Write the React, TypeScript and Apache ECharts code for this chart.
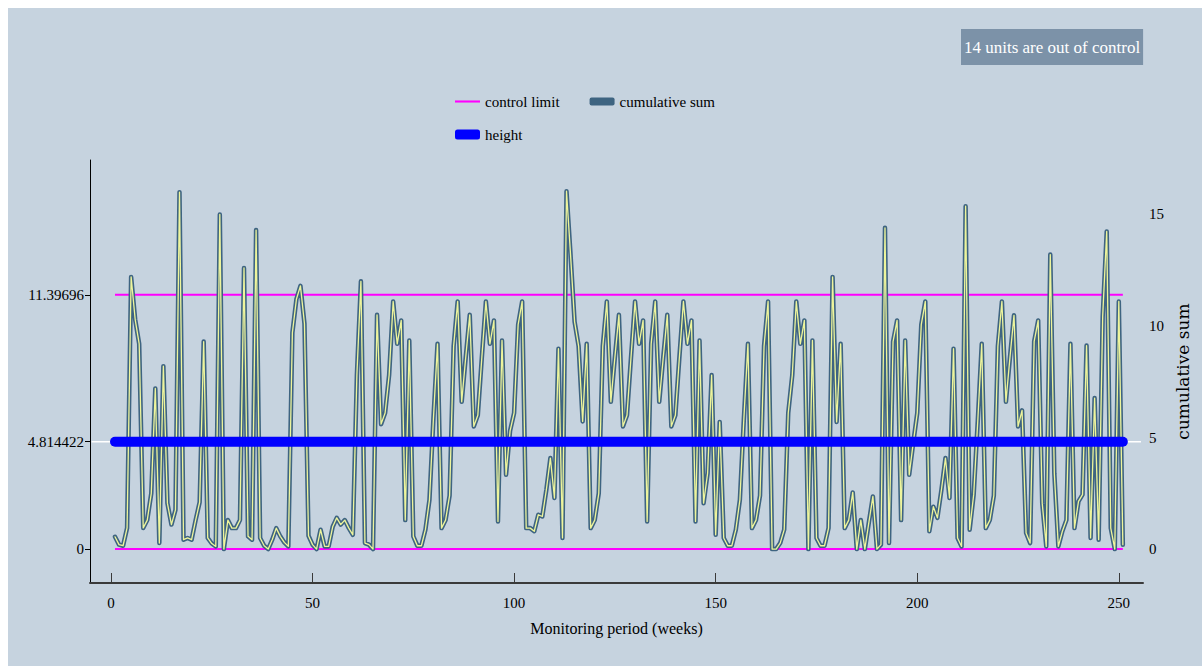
import React, { useEffect, useRef } from "react";
import * as echarts from "echarts";

// Cumulative sum per monitoring week (weeks 1..251)
const CUSUM: number[] = [
  0.55, 0.2, 0.15, 0.95, 12.2, 10.3, 9.2, 0.95, 1.3, 2.5,
  7.2, 0.27, 8.2, 2.06, 1.1, 1.76, 16.0, 0.42, 0.5, 0.42,
  1.3, 2.1, 9.3, 0.5, 0.25, 0.12, 15.0, 0.0, 1.3, 0.94,
  0.94, 1.3, 12.6, 0.57, 0.42, 14.3, 0.5, 0.15, 0.0, 0.42,
  0.94, 0.57, 0.3, 0.12, 9.7, 11.2, 11.8, 10.1, 0.6, 0.2,
  0.0, 0.87, 0.12, 0.12, 1.0, 1.4, 1.1, 1.3, 0.94, 0.64,
  7.8, 12.0, 0.27, 0.2, 0.0, 10.5, 5.6, 6.1, 7.8, 11.1,
  9.2, 10.25, 1.3, 9.35, 0.57, 0.15, 0.15, 0.87, 2.2, 5.9,
  9.2, 0.94, 1.3, 2.4, 9.1, 11.1, 6.6, 8.6, 10.5, 5.5,
  6.0, 8.6, 11.1, 9.2, 10.25, 1.24, 9.35, 3.33, 5.3, 6.1,
  10.06, 11.1, 0.94, 0.94, 0.8, 1.54, 1.46, 2.66, 4.08, 2.29,
  8.98, 0.5, 16.04, 13.2, 10.2, 9.1, 5.72, 9.2, 0.94, 1.3,
  2.5, 9.1, 11.1, 6.6, 8.6, 10.5, 5.5, 6.0, 8.6, 11.1,
  9.2, 10.25, 1.24, 9.2, 11.1, 6.6, 8.6, 10.5, 5.5, 6.0,
  8.6, 11.1, 9.2, 10.25, 1.24, 9.35, 2.06, 3.4, 7.8, 0.64,
  5.7, 0.5, 0.15, 0.15, 0.87, 2.2, 5.87, 9.2, 0.94, 1.3,
  2.4, 9.1, 11.1, 0.0, 0.0, 0.27, 0.87, 6.1, 7.8, 11.1,
  9.2, 10.25, 0.0, 9.35, 0.5, 0.15, 0.15, 0.94, 12.2, 5.7,
  9.2, 0.94, 1.3, 2.54, 0.0, 1.3, 0.0, 1.2, 2.36, 0.0,
  0.2, 14.4, 0.27, 9.3, 10.25, 1.3, 9.35, 3.33, 4.75, 6.1,
  10.06, 11.1, 0.8, 1.9, 1.4, 2.66, 4.08, 2.29, 8.98, 0.5,
  0.12, 15.37, 0.87, 2.44, 5.7, 9.2, 0.94, 1.3, 2.4, 9.1,
  11.1, 6.6, 8.6, 10.48, 5.5, 6.22, 0.72, 0.27, 9.31, 10.25,
  2.06, 0.12, 13.2, 3.4, 0.12, 0.8, 1.3, 9.2, 0.94, 2.14,
  2.44, 9.12, 0.5, 6.77, 0.42, 10.43, 14.24, 0.94, 0.0, 11.1,
  0.2,
];

const CONTROL_LIMIT = 11.39696;
const LOWER_LIMIT = 0;
const HEIGHT = 4.814422;

const LEFT_TICKS = [0, 4.814422, 11.39696];
const LEFT_TICK_LABELS = ["0", "4.814422", "11.39696"];
const RIGHT_TICKS = [0, 5, 10, 15];
const X_TICKS = [0, 50, 100, 150, 200, 250];

const TITLE = "14 units are out of control";
const X_NAME = "Monitoring period (weeks)";
const Y_NAME = "cumulative sum";

const FONT = "Liberation Serif";

export default function App() {
  const ref = useRef<HTMLDivElement>(null);

  useEffect(() => {
    if (!ref.current) return;
    const chart = echarts.init(ref.current, null, { renderer: "svg" });

    const weeks = CUSUM.map((_, i) => i + 1);
    const first = weeks[0];
    const last = weeks[weeks.length - 1];
    const cusumData = CUSUM.map((v, i) => [weeks[i], v]);

    const yMin = -1.52;
    const yMax = 17.44;

    const option: any = {
      animation: false,
      backgroundColor: "#c6d3df",
      textStyle: { fontFamily: FONT },
      title: {
        text: TITLE,
        left: 953,
        top: 21,
        backgroundColor: "#7c92a8",
        padding: [10, 3, 9, 3],
        textStyle: {
          color: "#ffffff",
          fontSize: 17,
          fontWeight: "normal",
          fontFamily: FONT,
        },
      },
      legend: [
        {
          left: 442,
          top: 81,
          itemWidth: 25,
          itemHeight: 8,
          itemGap: 30,
          symbolKeepAspect: true,
          textStyle: { fontSize: 15, color: "#000", fontFamily: FONT },
          data: [
            {
              name: "control limit",
              icon: "path://M0,0H24V2H0Z",
              itemStyle: { color: "#ff00ff", borderWidth: 0 },
            },
            {
              name: "cumulative sum",
              icon: "roundRect",
              itemStyle: { color: "#3e6481", borderWidth: 0 },
            },
          ],
        },
        {
          left: 442,
          top: 114,
          itemWidth: 25,
          itemHeight: 10,
          textStyle: { fontSize: 15, color: "#000", fontFamily: FONT },
          data: [
            {
              name: "height",
              icon: "roundRect",
              itemStyle: { color: "#0000ff", borderWidth: 0 },
            },
          ],
        },
      ],
      grid: { left: 82, top: 152, right: 59, bottom: 83, containLabel: false },
      xAxis: {
        type: "value",
        min: -5.2,
        max: 256,
        name: X_NAME,
        nameLocation: "middle",
        nameGap: 37,
        nameTextStyle: { fontSize: 16, color: "#000", fontFamily: FONT },
        axisLine: { onZero: false, lineStyle: { color: "#3a3a3a", width: 2 } },
        axisTick: {
          show: true,
          inside: true,
          length: 10,
          customValues: X_TICKS,
          lineStyle: { color: "#3a3a3a", width: 1 },
        },
        axisLabel: {
          customValues: X_TICKS,
          margin: 12,
          fontSize: 15,
          color: "#000",
          fontFamily: FONT,
        },
        splitLine: { show: false },
      },
      yAxis: [
        {
          type: "value",
          position: "left",
          min: yMin,
          max: yMax,
          axisLine: { show: true, onZero: false, lineStyle: { color: "#000", width: 1 } },
          axisTick: {
            show: true,
            length: 5,
            customValues: LEFT_TICKS,
            lineStyle: { color: "#000" },
          },
          axisLabel: {
            customValues: LEFT_TICKS,
            margin: 6,
            fontSize: 15,
            color: "#000",
            fontFamily: FONT,
            formatter: (v: number) => {
              const i = LEFT_TICKS.findIndex((t) => Math.abs(t - v) < 1e-6);
              return i >= 0 ? LEFT_TICK_LABELS[i] : "";
            },
          },
          splitLine: { show: false },
        },
        {
          type: "value",
          position: "right",
          min: yMin,
          max: yMax,
          name: Y_NAME,
          nameLocation: "middle",
          nameGap: 25,
          nameTextStyle: { fontSize: 17, color: "#000", fontFamily: "DejaVu Serif" },
          axisLine: { show: false, onZero: false },
          axisTick: { show: false, customValues: RIGHT_TICKS },
          axisLabel: {
            customValues: RIGHT_TICKS,
            margin: 6,
            fontSize: 15,
            color: "#000",
            fontFamily: FONT,
          },
          splitLine: { show: false },
        },
      ],
      series: [
        {
          type: "line",
          silent: true,
          symbol: "none",
          data: [
            [-4.8, HEIGHT],
            [255.5, HEIGHT],
          ],
          lineStyle: { color: "#ffffff", width: 1.5 },
          z: 1,
        },
        {
          name: "control limit",
          type: "line",
          symbol: "none",
          data: [
            [first, CONTROL_LIMIT],
            [last, CONTROL_LIMIT],
          ],
          itemStyle: { color: "#ff00ff" },
          lineStyle: { color: "#ff00ff", width: 2 },
          z: 2,
        },
        {
          name: "control limit",
          type: "line",
          symbol: "none",
          data: [
            [first, LOWER_LIMIT],
            [last, LOWER_LIMIT],
          ],
          itemStyle: { color: "#ff00ff" },
          lineStyle: { color: "#ff00ff", width: 2 },
          z: 2,
        },
        {
          name: "cumulative sum",
          type: "line",
          symbol: "none",
          data: cusumData,
          itemStyle: { color: "#3e6481" },
          lineStyle: { color: "#3e6481", width: 4.5, join: "round", cap: "round" },
          z: 3,
        },
        {
          name: "cumulative sum",
          type: "line",
          symbol: "none",
          data: cusumData,
          itemStyle: { color: "#3e6481" },
          lineStyle: { color: "#eef59c", width: 1.3, join: "round", cap: "round" },
          z: 4,
        },
        {
          name: "height",
          type: "line",
          symbol: "none",
          data: [
            [first, HEIGHT],
            [last, HEIGHT],
          ],
          itemStyle: { color: "#0000ff" },
          lineStyle: { color: "#0000ff", width: 10, cap: "round" },
          z: 5,
        },
      ],
    };

    chart.setOption(option);
    return () => chart.dispose();
  }, []);

  return (
    <div
      ref={ref}
      style={{
        position: "absolute",
        left: 8,
        top: 8,
        width: 1194,
        height: 658,
        background: "#c6d3df",
      }}
    />
  );
}
